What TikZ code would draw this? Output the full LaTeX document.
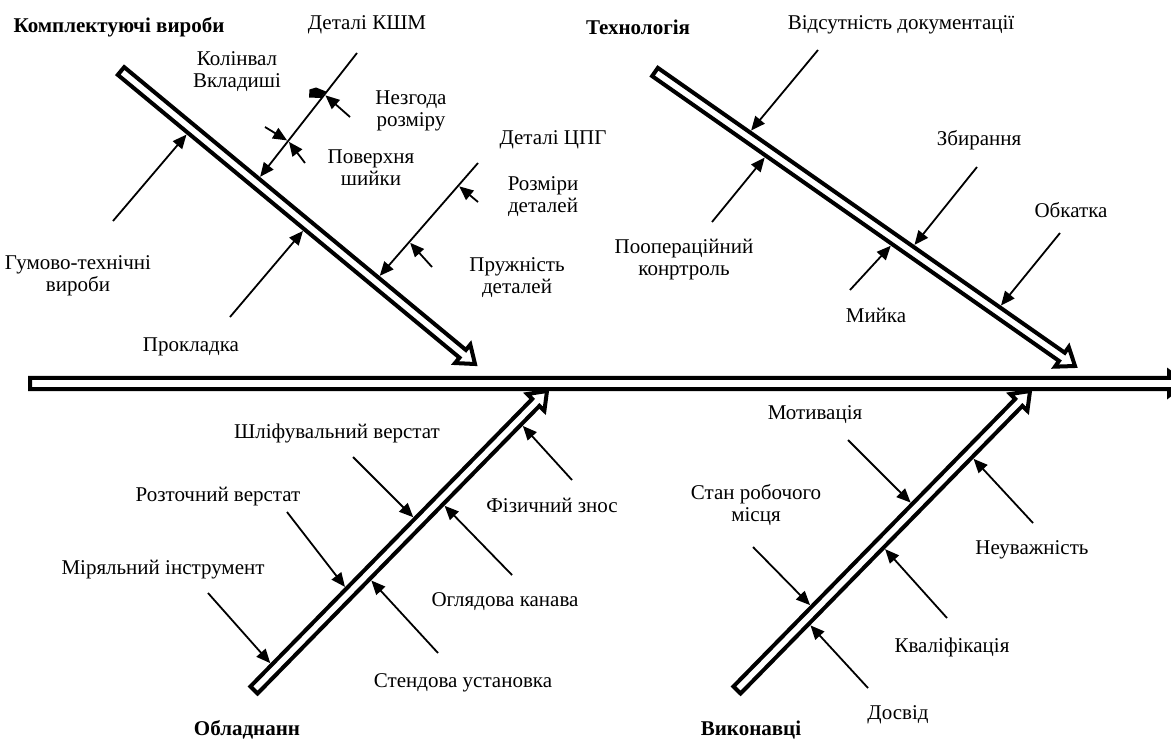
\documentclass[tikz,border=0pt]{standalone}
\usepackage{fontspec}
\setmainfont{Liberation Serif}
\usetikzlibrary{calc,arrows.meta}
\tikzset{
  lbl/.style={inner sep=0pt, align=center, font=\fontsize{10.5}{11}\selectfont},
  cat/.style={inner sep=0pt, align=center, font=\fontsize{10.5}{11}\selectfont\bfseries},
  cause/.style={line width=0.9pt, -{Triangle[length=7pt,width=6pt]}},
  bone/.style={line width=2pt, fill=white, miter limit=10},
}
% #1 half width, #2 start, #3 tip
\newcommand{\bonearrow}[3]{%
  \path ($(#3)!8pt!(#2)$) coordinate (bb);
  \draw[bone] ($(#2)!#1!90:(#3)$) -- ($(bb)!#1!90:(#3)$) -- ($(bb)!6pt!90:(#3)$) -- (#3)
    -- ($(bb)!6pt!-90:(#3)$) -- ($(bb)!#1!-90:(#3)$) -- ($(#2)!#1!-90:(#3)$) -- cycle;
}
% #1 name, #2 start, #3 tip, #4 fraction, #5 signed offset
\newcommand{\edgept}[5]{%
  \coordinate (#1-c) at ($(#2)!#4!(#3)$);
  \coordinate (#1) at ($(#1-c)!#5!90:(#3)$);
}
\begin{document}
\begin{tikzpicture}[x=0.5pt,y=-0.5pt]
\useasboundingbox (0,0) rectangle (1171,738);

% ---------- branch 1: Комплектуючі вироби ----------
\coordinate (b1s) at (121,71);
\coordinate (b1t) at (475,364);
\bonearrow{2.5pt}{b1s}{b1t}
\edgept{gumT}{b1s}{b1t}{0.198}{-3.6pt}
\edgept{prokT}{b1s}{b1t}{0.527}{-3.6pt}
\edgept{kshmT}{b1s}{b1t}{0.380}{3.6pt}
\edgept{cpgT}{b1s}{b1t}{0.718}{3.6pt}
\coordinate (gumS) at (113,221);
\coordinate (prokS) at (230,317);
\coordinate (kshmS) at (357,53);
\coordinate (cpgS) at (478,163);
\draw[cause] (gumS) -- (gumT);
\draw[cause] (prokS) -- (prokT);
\draw[cause] (kshmS) -- (kshmT);
\draw[cause] (cpgS) -- (cpgT);
% sub-causes on КШМ
\edgept{nezT}{kshmS}{kshmT}{0.336}{0.6pt}
\edgept{povRT}{kshmS}{kshmT}{0.712}{0.6pt}
\edgept{povLT}{kshmS}{kshmT}{0.712}{-0.6pt}
\coordinate (nezS) at (350,117);
\coordinate (povRS) at (305,163);
\coordinate (povLS) at (265,127);
\draw[cause] (nezS) -- (nezT);
\draw[cause] (povRS) -- (povRT);
\draw[cause] (povLS) -- (povLT);
\fill (309,97.5) -- (309.5,89.5) -- (316,87.5) -- (326,91.5) -- (320.8,98) -- cycle;
% sub-causes on ЦПГ
\edgept{rozmT}{cpgS}{cpgT}{0.20}{0.6pt}
\edgept{pruzhT}{cpgS}{cpgT}{0.70}{0.6pt}
\coordinate (rozmS) at (478,202);
\coordinate (pruzhS) at (432,267);
\draw[cause] (rozmS) -- (rozmT);
\draw[cause] (pruzhS) -- (pruzhT);

\node[cat] (c1) at (119,27) {Комплектуючі вироби};
\node[lbl] (l-kshm) at (367,25) {Деталі КШМ};
\node[lbl] (l-kol) at (237,72) {Колінвал\\Вкладиші};
\node[lbl] (l-nez) at (411,111) {Незгода\\розміру};
\node[lbl] (l-pov) at (371,168) {Поверхня\\шийки};
\node[lbl] (l-cpg) at (553,140) {Деталі ЦПГ};
\node[lbl] (l-rozm) at (543,197) {Розміри\\деталей};
\node[lbl] (l-pruzh) at (517,278) {Пружність\\деталей};
\node[lbl] (l-gum) at (78,276) {Гумово-технічні\\вироби};
\node[lbl] (l-prok) at (191,347) {Прокладка};

% ---------- branch 2: Технологія ----------
\coordinate (b2s) at (655,72);
\coordinate (b2t) at (1075,366);
\bonearrow{2.5pt}{b2s}{b2t}
\edgept{vidsT}{b2s}{b2t}{0.219}{3.6pt}
\edgept{poopT}{b2s}{b2t}{0.271}{-3.6pt}
\edgept{zbyrT}{b2s}{b2t}{0.608}{3.6pt}
\edgept{myiT}{b2s}{b2t}{0.571}{-3.6pt}
\edgept{obkT}{b2s}{b2t}{0.814}{3.6pt}
\coordinate (vidsS) at (818,50);
\coordinate (poopS) at (712,222);
\coordinate (zbyrS) at (977,167);
\coordinate (myiS) at (850,290);
\coordinate (obkS) at (1060,233);
\draw[cause] (vidsS) -- (vidsT);
\draw[cause] (poopS) -- (poopT);
\draw[cause] (zbyrS) -- (zbyrT);
\draw[cause] (myiS) -- (myiT);
\draw[cause] (obkS) -- (obkT);

\node[cat] (c2) at (638,27) {Технологія};
\node[lbl] (l-vids) at (901,25) {Відсутність документації};
\node[lbl] (l-zbyr) at (979,140) {Збирання};
\node[lbl] (l-obk) at (1071,210) {Обкатка};
\node[lbl] (l-poop) at (684,260) {Поопераційний\\конртроль};
\node[lbl] (l-myi) at (876,315) {Мийка};

% ---------- branch 3: Обладнанн ----------
\coordinate (b3s) at (254,690);
\coordinate (b3t) at (547,391);
\bonearrow{2.5pt}{b3s}{b3t}
\edgept{shlT}{b3s}{b3t}{0.561}{3.6pt}
\edgept{roztT}{b3s}{b3t}{0.328}{3.6pt}
\edgept{mirT}{b3s}{b3t}{0.073}{3.6pt}
\edgept{fizT}{b3s}{b3t}{0.900}{-3.6pt}
\edgept{oglT}{b3s}{b3t}{0.633}{-3.6pt}
\edgept{stT}{b3s}{b3t}{0.383}{-3.6pt}
\coordinate (shlS) at (353,457);
\coordinate (roztS) at (287,512);
\coordinate (mirS) at (208,593);
\coordinate (fizS) at (572,480);
\coordinate (oglS) at (512,575);
\coordinate (stS) at (438,653);
\draw[cause] (shlS) -- (shlT);
\draw[cause] (roztS) -- (roztT);
\draw[cause] (mirS) -- (mirT);
\draw[cause] (fizS) -- (fizT);
\draw[cause] (oglS) -- (oglT);
\draw[cause] (stS) -- (stT);

\node[cat] (c3) at (247,730) {Обладнанн};
\node[lbl] (l-shl) at (337,433) {Шліфувальний верстат};
\node[lbl] (l-rozt) at (218,497) {Розточний верстат};
\node[lbl] (l-mir) at (163,570) {Міряльний інструмент};
\node[lbl] (l-fiz) at (552,505) {Фізичний знос};
\node[lbl] (l-ogl) at (505,602) {Оглядова канава};
\node[lbl] (l-st) at (463,683) {Стендова установка};

% ---------- branch 4: Виконавці ----------
\coordinate (b4s) at (737,690);
\coordinate (b4t) at (1030,391);
\bonearrow{2.5pt}{b4s}{b4t}
\edgept{motT}{b4s}{b4t}{0.610}{3.6pt}
\edgept{stanT}{b4s}{b4t}{0.267}{3.6pt}
\edgept{neuT}{b4s}{b4t}{0.790}{-3.6pt}
\edgept{kvT}{b4s}{b4t}{0.488}{-3.6pt}
\edgept{dosT}{b4s}{b4t}{0.233}{-3.6pt}
\coordinate (motS) at (848,440);
\coordinate (stanS) at (753,547);
\coordinate (neuS) at (1033,523);
\coordinate (kvS) at (947,618);
\coordinate (dosS) at (868,688);
\draw[cause] (motS) -- (motT);
\draw[cause] (stanS) -- (stanT);
\draw[cause] (neuS) -- (neuT);
\draw[cause] (kvS) -- (kvT);
\draw[cause] (dosS) -- (dosT);

\node[cat] (c4) at (751,730) {Виконавці};
\node[lbl] (l-mot) at (815,415) {Мотивація};
\node[lbl] (l-stan) at (756,505) {Стан робочого\\місця};
\node[lbl] (l-neu) at (1032,550) {Неуважність};
\node[lbl] (l-kv) at (952,647) {Кваліфікація};
\node[lbl] (l-dos) at (898,715) {Досвід};

% ---------- spine ----------
\coordinate (sp0) at (30,383.5);
\coordinate (sp1) at (1185,383.5);
\bonearrow{2.8pt}{sp0}{sp1}
\end{tikzpicture}
\end{document}
